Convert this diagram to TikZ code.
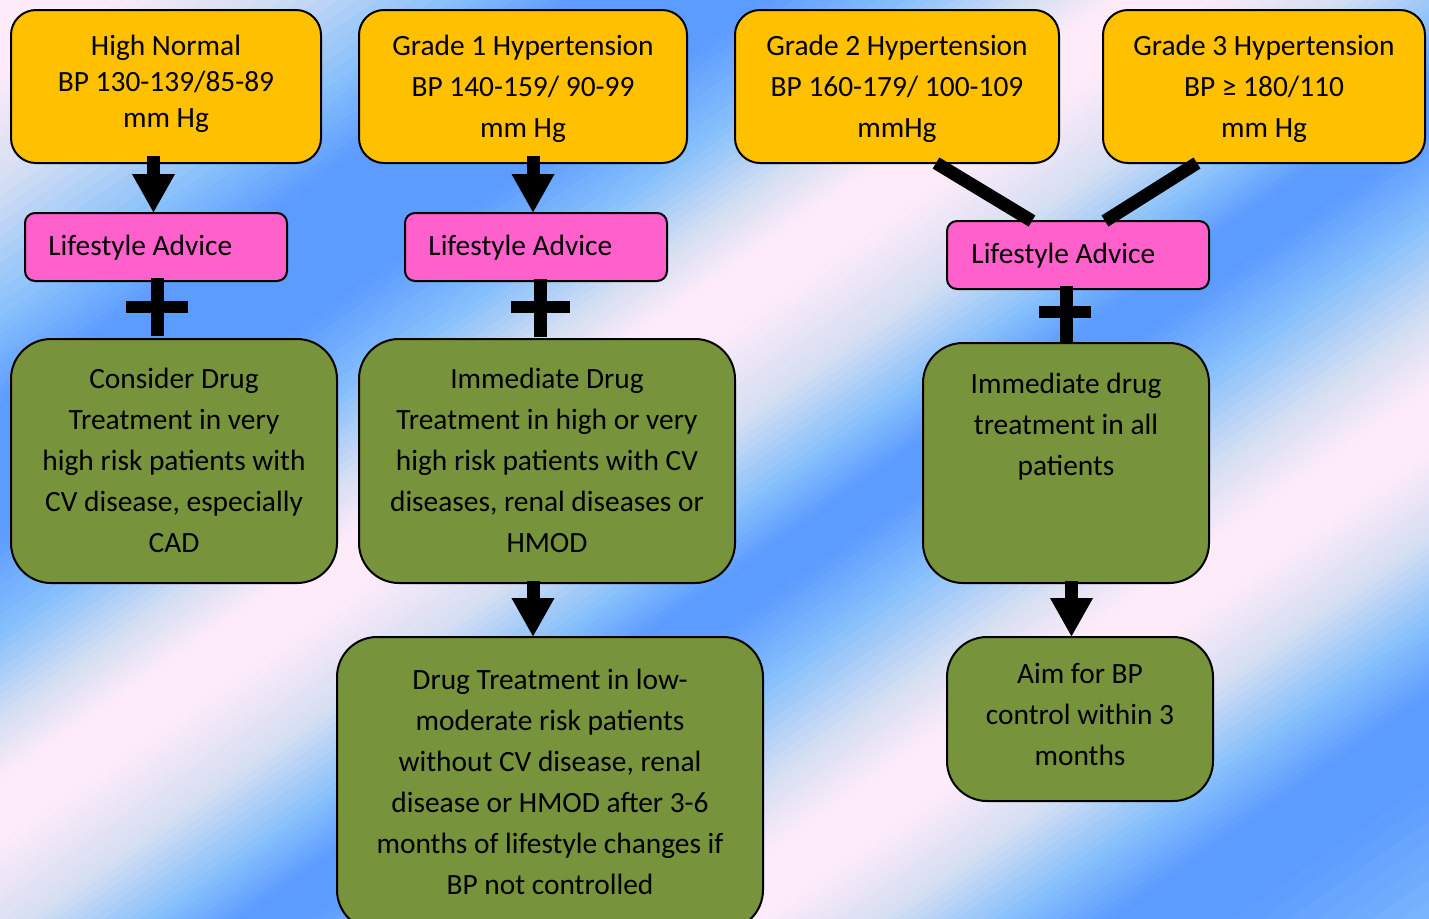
\documentclass[tikz,border=0pt]{standalone}
\usepackage{fontspec}
\setmainfont{Carlito}
\usetikzlibrary{arrows.meta,calc}
\definecolor{pk}{RGB}{253,235,249}
\definecolor{lav}{RGB}{213,222,242}
\definecolor{sky}{RGB}{135,192,252}
\definecolor{bl}{RGB}{93,156,255}
\definecolor{yel}{RGB}{255,192,0}
\definecolor{pnk}{RGB}{255,97,204}
\definecolor{grn}{RGB}{119,147,60}
\definecolor{shd}{RGB}{80,90,120}
\begin{document}
\begin{tikzpicture}[x=0.5pt,y=-0.5pt,
  box/.style={draw=black, line width=1pt, inner sep=0pt, outer sep=0pt},
  ybox/.style={box, fill=yel, rounded corners=12.5pt},
  pbox/.style={box, fill=pnk, rounded corners=5pt},
  gbox/.style={box, fill=grn, rounded corners=20pt},
  txt/.style={align=center, inner sep=0pt, font=\fontsize{14.7pt}{20.5pt}\selectfont},
  ltxt/.style={inner sep=0pt, anchor=base west, font=\fontsize{14.7pt}{20.5pt}\selectfont},
  blockarrow/.style={line width=6.5pt, -{Triangle[width=20pt,length=19.5pt]}},
  barline/.style={line width=6.5pt},
  hbar/.style={line width=6pt},
  shadowbar/.style={draw=shd, opacity=0.5}
]
\useasboundingbox (0,0) rectangle (1429,918);
% background
\begin{scope}
\clip (0,0) rectangle (1429,918);
\foreach \u/\c [remember=\u as \up (initially -300), remember=\c as \cp (initially pk)] in
  {60/pk,150/lav,260/sky,330/bl,440/bl,520/sky,590/lav,640/pk,690/pk,770/lav,840/sky,890/bl,930/bl,1000/sky,1080/lav,1140/pk,1190/pk,1260/lav,1330/sky,1390/bl,1460/bl,1620/sky}{
  \foreach \k [evaluate=\k as \p using {int((\k+0.5)*10)},
               evaluate=\k as \ua using {\up+(\u-\up)*\k/10},
               evaluate=\k as \ub using {\up+(\u-\up)*(\k+1)/10+1}] in {0,...,9}{
    \fill[\c!\p!\cp] ({\ua*0.574-2500*0.819},{\ua*0.819+2500*0.574})
      -- ({\ua*0.574+2500*0.819},{\ua*0.819-2500*0.574})
      -- ({\ub*0.574+2500*0.819},{\ub*0.819-2500*0.574})
      -- ({\ub*0.574-2500*0.819},{\ub*0.819+2500*0.574}) -- cycle;
  }
}
\end{scope}

% boxes
\node[ybox, minimum width=155pt, minimum height=76.5pt] (y1) at (166,86.5) {};
\node[ybox, minimum width=164pt, minimum height=76.5pt] (y2) at (523,86.5) {};
\node[ybox, minimum width=162pt, minimum height=76.5pt] (y3) at (897,86.5) {};
\node[ybox, minimum width=161pt, minimum height=76.5pt] (y4) at (1264,86.5) {};
\node[pbox, minimum width=131pt, minimum height=34pt] (p1) at (156,247) {};
\node[pbox, minimum width=131pt, minimum height=34pt] (p2) at (536,247) {};
\node[pbox, minimum width=131pt, minimum height=34pt] (p3) at (1078,255) {};
\node[gbox, minimum width=163pt, minimum height=122pt] (g1) at (174,461) {};
\node[gbox, minimum width=188pt, minimum height=122pt] (g2) at (547,461) {};
\node[gbox, minimum width=213pt, minimum height=146.5pt] (g3) at (550,783.5) {};
\node[gbox, minimum width=143pt, minimum height=120pt] (g4) at (1066,463) {};
\node[gbox, minimum width=133pt, minimum height=82pt] (g5) at (1080,719) {};

% texts
\node[txt, font=\fontsize{14.7pt}{18pt}\selectfont] (ty1) at (166,83.5) {High Normal\\BP 130-139/85-89\\mm Hg};
\node[txt] (ty2) at (523,88.5) {Grade 1 Hypertension\\BP 140-159/ 90-99\\mm Hg};
\node[txt] (ty3) at (897,88.5) {Grade 2 Hypertension\\BP 160-179/ 100-109\\mmHg};
\node[txt] (ty4) at (1264,88.5) {Grade 3 Hypertension\\BP ≥ 180/110\\mm Hg};
\node[ltxt] (tp1) at (48,255) {Lifestyle Advice};
\node[ltxt] (tp2) at (428,255) {Lifestyle Advice};
\node[ltxt] (tp3) at (971,263) {Lifestyle Advice};
\node[txt] (tg1) at (174,460.5) {Consider Drug\\Treatment in very\\high risk patients with\\CV disease, especially\\CAD};
\node[txt] (tg2) at (547,460.5) {Immediate Drug\\Treatment in high or very\\high risk patients with CV\\diseases, renal diseases or\\HMOD};
\node[txt] (tg3) at (550,782) {Drug Treatment in low-\\moderate risk patients\\without CV disease, renal\\disease or HMOD after 3-6\\months of lifestyle changes if\\BP not controlled};
\node[txt] (tg4) at (1066,427) {Immediate drug\\treatment in all\\patients};
\node[txt] (tg5) at (1080,714.5) {Aim for BP\\control within 3\\months};

% connector x positions
\coordinate (ca1) at (153.5,0);
\coordinate (ca2) at (533,0);
\coordinate (ca4) at (1071.5,0);
\coordinate (cp1) at (157.5,0);
\coordinate (cp2) at (540.5,0);
\coordinate (cp3) at (1066,0);
\coordinate (hl1) at (126,306.5);
\coordinate (hr1) at (188,306.5);
\coordinate (hl2) at (511,307);
\coordinate (hr2) at (570,307);
\coordinate (hl3) at (1039,312);
\coordinate (hr3) at (1091,312);
\coordinate (d1a) at (936,0);
\coordinate (d1b) at (1032,0);
\coordinate (d2a) at (1197,0);
\coordinate (d2b) at (1105,0);

% block arrows
\draw[blockarrow, shorten <=-3.5pt] (y1.south -| ca1) -- (p1.north -| ca1);
\draw[blockarrow, shorten <=-3.5pt] (y2.south -| ca2) -- (p2.north -| ca2);
\draw[blockarrow, shorten <=-1pt] (g2.south -| ca2) -- (g3.north -| ca2);
\draw[blockarrow, shorten <=-1pt] (g4.south -| ca4) -- (g5.north -| ca4);

% diagonal bars
\draw[barline] (y3.south -| d1a) -- (p3.north -| d1b);
\draw[barline] (y4.south -| d2a) -- (p3.north -| d2b);

% plus signs: shadows
\begin{scope}[shift={(3,3)}]
\draw[barline, shadowbar, shorten <=-1.5pt, shorten >=1.5pt] (p1.south -| cp1) -- (g1.north -| cp1);
\draw[hbar, shadowbar] (hl1) -- (hr1);
\draw[barline, shadowbar, shorten <=-1pt, shorten >=1pt] (p2.south -| cp2) -- (g2.north -| cp2);
\draw[hbar, shadowbar] (hl2) -- (hr2);
\draw[barline, shadowbar, shorten <=-1.5pt] (p3.south -| cp3) -- (g4.north -| cp3);
\draw[hbar, shadowbar] (hl3) -- (hr3);
\end{scope}
% plus signs
\draw[barline, shorten <=-1.5pt, shorten >=1.5pt] (p1.south -| cp1) -- (g1.north -| cp1);
\draw[hbar] (hl1) -- (hr1);
\draw[barline, shorten <=-1pt, shorten >=1pt] (p2.south -| cp2) -- (g2.north -| cp2);
\draw[hbar] (hl2) -- (hr2);
\draw[barline, shorten <=-1.5pt] (p3.south -| cp3) -- (g4.north -| cp3);
\draw[hbar] (hl3) -- (hr3);
\end{tikzpicture}
\end{document}
